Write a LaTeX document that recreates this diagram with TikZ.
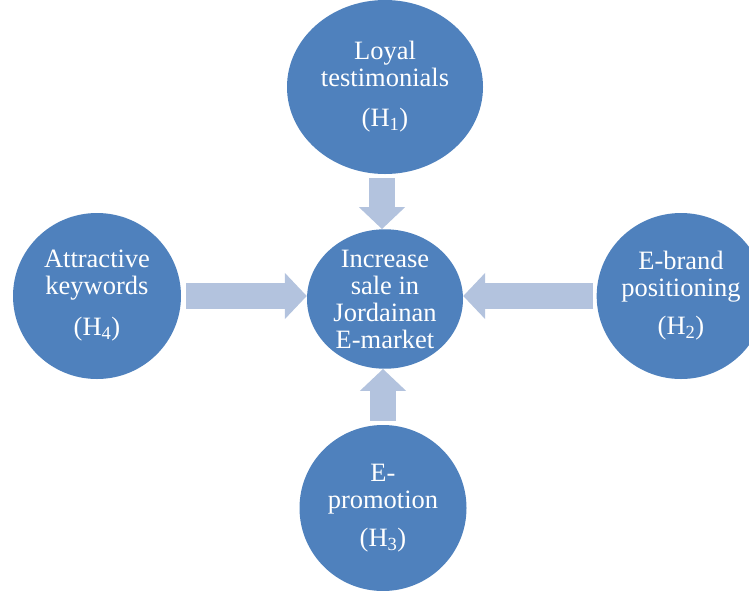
\documentclass[tikz,border=0pt]{standalone}
\usepackage{fontspec}
\setmainfont{Liberation Serif}
\usetikzlibrary{shapes.geometric,arrows.meta}
\definecolor{hypblue}{RGB}{79,129,189}
\definecolor{arrowblue}{RGB}{179,195,222}
\tikzset{
  hyp/.style={ellipse, fill=hypblue, text=white, inner sep=0pt, align=center,
    font=\fontsize{26.5}{27}\selectfont},
  blockarrow/.style={draw=arrowblue, line width=26pt, -{Triangle[width=45pt,length=22pt]}}
}

\begin{document}
\begin{tikzpicture}[x=1pt,y=-1pt]
  \clip (0,0) rectangle (749,590);
  \node[hyp, minimum width=156pt, minimum height=132pt] (sale) at (385,299)
    {Increase\\sale in\\Jordainan\\E-market};
  \node[hyp, minimum width=196pt, minimum height=174pt] (h1) at (385,87)
    {Loyal\\testimonials\\[13pt](H\textsubscript{1})};
  \node[hyp, minimum width=166pt, minimum height=166pt] (h2) at (681,296)
    {E-brand\\positioning\\[11pt](H\textsubscript{2})};
  \node[hyp, minimum width=167pt, minimum height=166pt] (h3) at (383,508)
    {E-\\promotion\\[11pt](H\textsubscript{3})};
  \node[hyp, minimum width=168pt, minimum height=166pt] (h4) at (97,296)
    {Attractive\\keywords\\[14pt](H\textsubscript{4})};
%  arrows into the centre
  \draw[blockarrow, shorten <=4pt] ([xshift=-3pt]h1.south) -- ([xshift=-3pt]h1.south |- sale.north);
  \draw[blockarrow, shorten <=3pt] (h2.west) -- (h2.west -| sale.east);
  \draw[blockarrow, shorten <=4pt] (h3.north) -- (h3.north |- sale.south);
  \draw[blockarrow, shorten <=5pt] (h4.east) -- (h4.east -| sale.west);
\end{tikzpicture}
\end{document}
